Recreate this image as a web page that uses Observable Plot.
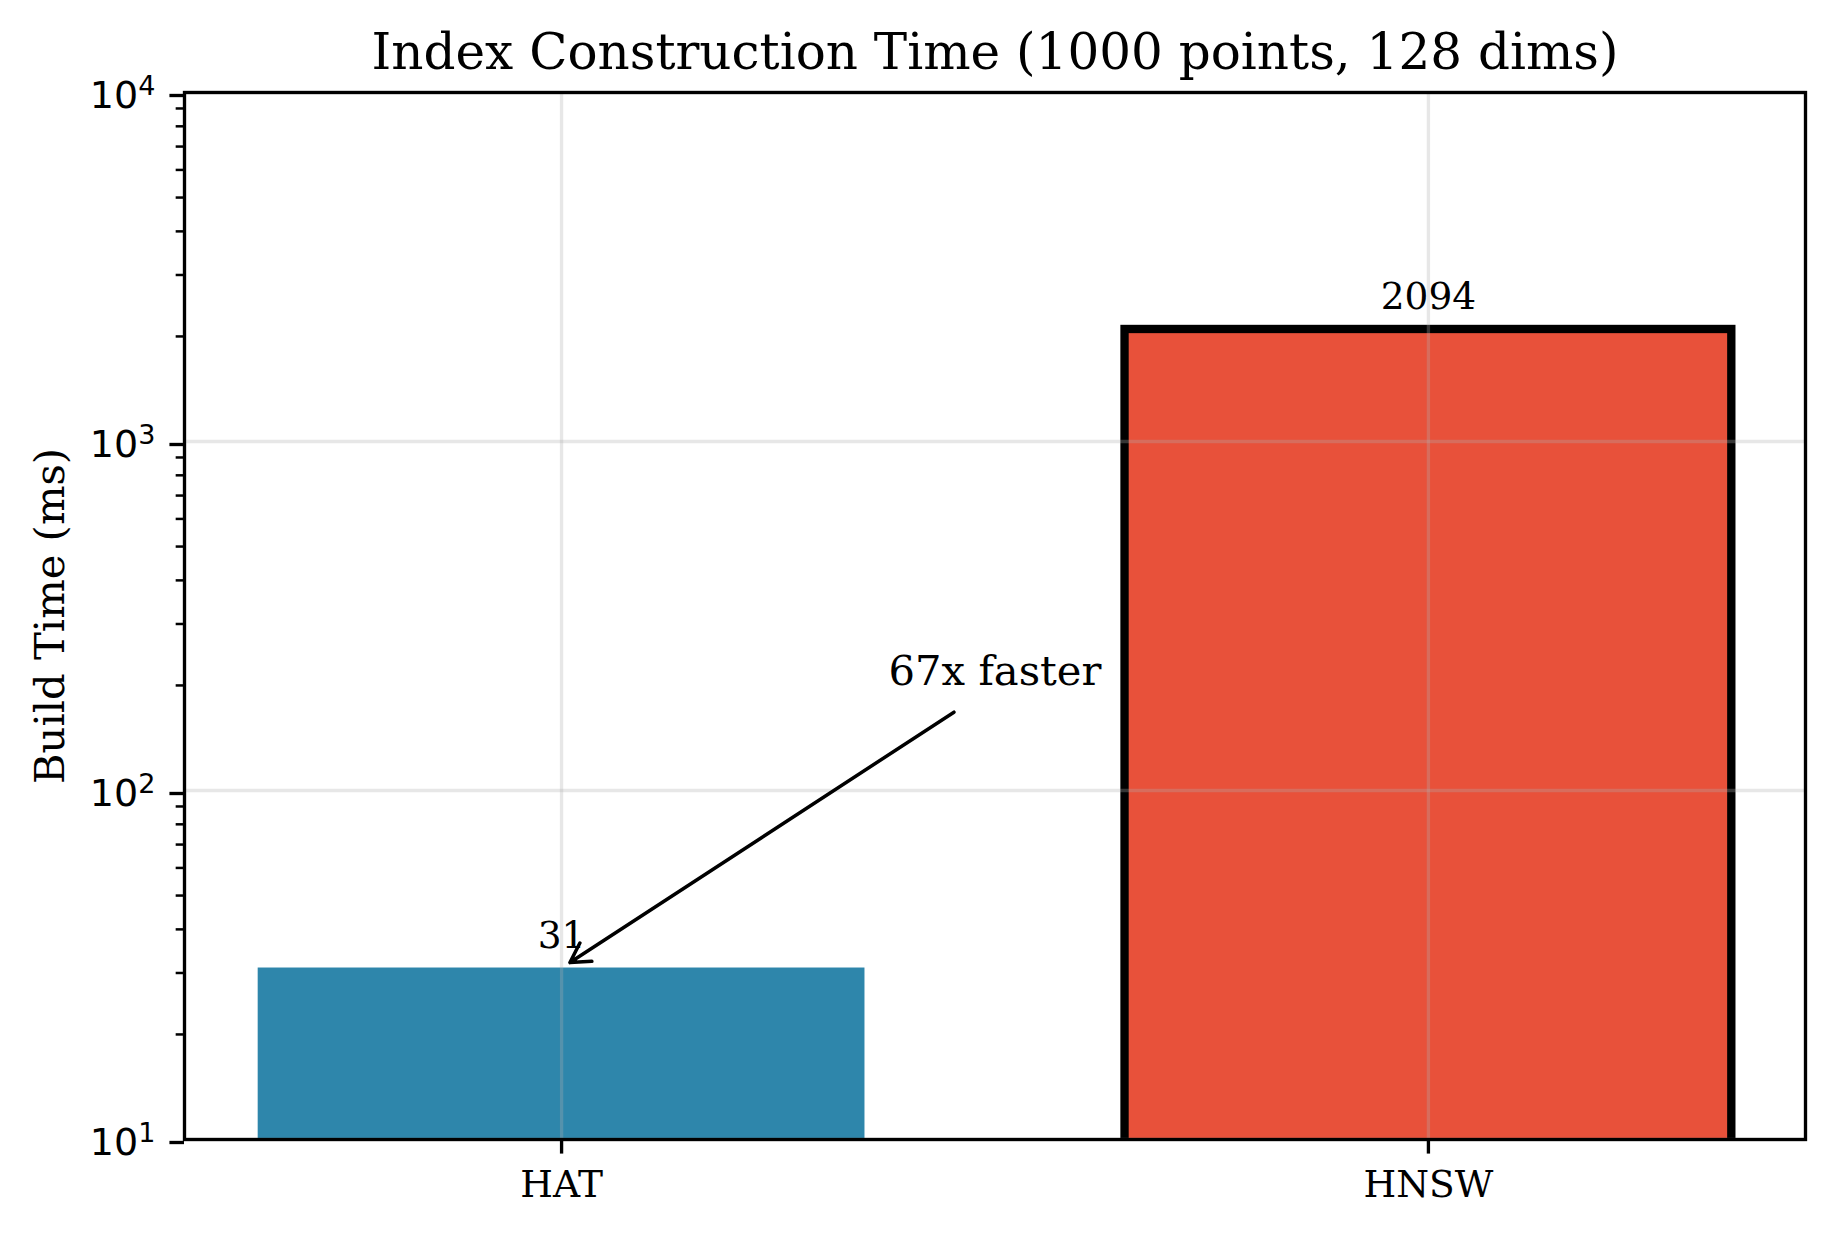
<!DOCTYPE html>
<html>
<head>
<meta charset="utf-8">
<script src="https://cdn.jsdelivr.net/npm/d3@7"></script>
<script src="https://cdn.jsdelivr.net/npm/@observablehq/plot@0.6"></script>
<style>
  html, body { margin: 0; padding: 0; background: #ffffff; }
  #chart svg { display: block; }
</style>
</head>
<body>
<div id="chart"></div>
<script>
// ---------- data ----------
const TITLE = "Index Construction Time (1000 points, 128 dims)";
const Y_LABEL = "Build Time (ms)";
const CATEGORIES = ["HAT", "HNSW"];
const BUILD_TIME_MS = [31, 2094];
const Y_MAJOR_TICKS = [10, 100, 1000, 10000];
const Y_MINOR_MULTIPLIERS = [2, 3, 4, 5, 6, 7, 8, 9];
const SPEEDUP_LABEL = "67x faster";
const SPEEDUP_TEXT_AT = [0.5, 200];   // annotation text anchor (x index, ms)
const SPEEDUP_POINTS_TO = [0, 31];    // HAT bar top (x index, ms)

// ---------- styles ----------
const PT = 300 / 72;                  // matplotlib points -> px at 300 dpi
const BAR_WIDTH = 0.7;
const FILL = {HAT: "#2E86AB", HNSW: "#E8513A"};
const OUTLINED = ["HNSW"];
const SERIF = "'DejaVu Serif', 'Liberation Serif', serif";
const SANS = "'DejaVu Sans', sans-serif";

const bars = CATEGORIES.map((c, i) => ({category: c, i, time: BUILD_TIME_MS[i]}));
const yMinor = Y_MAJOR_TICKS.slice(0, -1).flatMap(d => Y_MINOR_MULTIPLIERS.map(m => m * d));
const xLo = -BAR_WIDTH / 2, xHi = CATEGORIES.length - 1 + BAR_WIDTH / 2;
const xPad = 0.05 * (xHi - xLo);

const chart = Plot.plot({
  width: 1834,
  height: 1234,
  marginLeft: 184,
  marginRight: 29,
  marginTop: 92,
  marginBottom: 95,
  style: {fontFamily: SERIF, background: "#ffffff", color: "#000000"},
  x: {type: "linear", domain: [xLo - xPad, xHi + xPad]},
  y: {type: "log", domain: [Y_MAJOR_TICKS[0], Y_MAJOR_TICKS[Y_MAJOR_TICKS.length - 1]]},
  color: {type: "categorical", domain: CATEGORIES, range: CATEGORIES.map(c => FILL[c])},
  marks: [
    Plot.rectY(bars, {
      x1: d => d.i - BAR_WIDTH / 2, x2: d => d.i + BAR_WIDTH / 2,
      y1: 1, y2: "time", fill: "category", clip: "frame"
    }),
    Plot.rectY(bars.filter(d => OUTLINED.includes(d.category)), {
      x1: d => d.i - BAR_WIDTH / 2, x2: d => d.i + BAR_WIDTH / 2,
      y1: 1, y2: "time", fill: "none", stroke: "#000000", strokeWidth: 2 * PT, clip: "frame"
    }),
    Plot.gridY(Y_MAJOR_TICKS, {stroke: "#b0b0b0", strokeOpacity: 0.3, strokeWidth: 0.8 * PT}),
    Plot.gridX(bars.map(d => d.i), {stroke: "#b0b0b0", strokeOpacity: 0.3, strokeWidth: 0.8 * PT}),
    Plot.frame({stroke: "#000000", strokeWidth: 0.8 * PT}),
    Plot.axisY(yMinor, {
      tickSize: 2 * PT, strokeWidth: 0.6 * PT, tickFormat: () => "", label: null
    }),
    Plot.axisY(Y_MAJOR_TICKS, {
      tickSize: 3.5 * PT, tickPadding: 3.5 * PT, strokeWidth: 0.8 * PT,
      tickFormat: d => `10^${Math.round(Math.log10(d))}`,
      fontSize: 38, fontFamily: SANS, label: null, dy: 3
    }),
    Plot.axisX(bars.map(d => d.i), {
      tickSize: 3.5 * PT, tickPadding: 16, strokeWidth: 0.8 * PT,
      tickFormat: i => CATEGORIES[i], fontSize: 37.5, label: null
    }),
    Plot.text(bars, {
      x: "i", y: "time", text: d => String(d.time),
      dy: -20, lineAnchor: "bottom", fontSize: 37.5
    }),
    Plot.arrow([{}], {
      x1: SPEEDUP_TEXT_AT[0], y1: SPEEDUP_TEXT_AT[1],
      x2: SPEEDUP_POINTS_TO[0], y2: SPEEDUP_POINTS_TO[1],
      insetStart: 49, insetEnd: 10, headAngle: 60, headLength: 9.4,
      stroke: "#000000", strokeWidth: 3.5
    }),
    Plot.text([SPEEDUP_LABEL], {
      x: SPEEDUP_TEXT_AT[0], y: SPEEDUP_TEXT_AT[1], text: d => d,
      lineAnchor: "bottom", fontSize: 41.7
    }),
    Plot.text([TITLE], {
      frameAnchor: "top", text: d => d, dy: -24, lineAnchor: "bottom", fontSize: 50
    }),
    Plot.text([Y_LABEL], {
      frameAnchor: "left", text: d => d, dx: -121, rotate: -90,
      textAnchor: "middle", lineAnchor: "bottom", fontSize: 41.7
    })
  ]
});

// render exponents as superscripts (10^n -> 10 with raised n)
chart.querySelectorAll('g[aria-label="y-axis tick label"] text').forEach(t => {
  const m = /^10\^(\d+)$/.exec(t.textContent);
  if (!m) return;
  t.textContent = "10";
  const sup = document.createElementNS("http://www.w3.org/2000/svg", "tspan");
  sup.setAttribute("font-size", "27");
  sup.setAttribute("dy", "-13");
  sup.textContent = m[1];
  t.appendChild(sup);
});

document.getElementById("chart").appendChild(chart);
</script>
</body>
</html>
